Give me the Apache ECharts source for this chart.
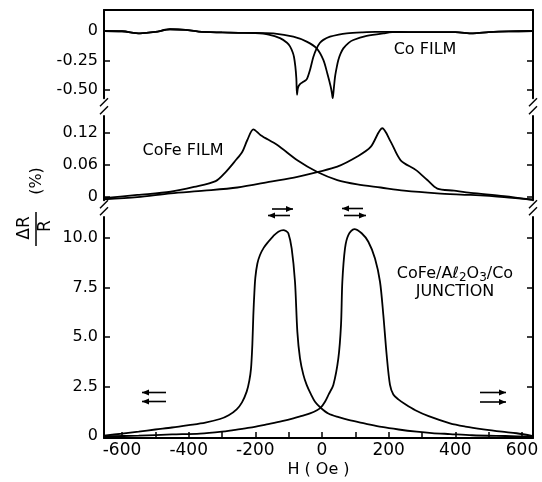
<!DOCTYPE html>
<html>
<head>
<meta charset="utf-8">
<script src="https://cdn.jsdelivr.net/npm/echarts@6/dist/echarts.min.js"></script>
<style>
  html, body { margin: 0; padding: 0; background: #fff; }
  #chart { width: 542px; height: 482px; }
</style>
</head>
<body>
<div id="chart"></div>
<script>
// Magnetoresistance ΔR/R (%) versus applied field H (Oe)

// Co film: decreasing-field sweep (dip at negative field)
const coDownH = [-654, -600, -546, -500, -456, -410, -370, -300, -250, -200, -160, -126, -105, -96, -88, -84, -80, -77, -75, -72, -66, -56, -46, -36, -26, -16, -6, 4, 24, 50, 74, 120, 160, 220, 300, 400, 453, 500, 560, 633];
const coDownR = [0, -0.002, -0.02, -0.008, 0.015, 0.01, -0.005, -0.012, -0.015, -0.018, -0.03, -0.06, -0.1, -0.13, -0.18, -0.22, -0.3, -0.4, -0.54, -0.48, -0.45, -0.43, -0.41, -0.33, -0.22, -0.147, -0.1, -0.075, -0.048, -0.03, -0.02, -0.012, -0.008, -0.008, -0.01, -0.01, -0.02, -0.01, -0.003, 0];
// Co film: increasing-field sweep (dip at positive field)
const coUpH = [-654, -600, -546, -500, -456, -410, -370, -300, -250, -200, -146, -86, -46, -16, 4, 16, 26, 30, 32, 35, 39, 44, 49, 56, 64, 80, 94, 134, 184, 224, 300, 400, 453, 500, 560, 633];
const coUpR = [0, -0.002, -0.02, -0.008, 0.015, 0.01, -0.005, -0.012, -0.015, -0.015, -0.02, -0.048, -0.09, -0.147, -0.245, -0.36, -0.47, -0.53, -0.57, -0.5, -0.39, -0.31, -0.245, -0.19, -0.147, -0.1, -0.076, -0.042, -0.02, -0.008, -0.01, -0.01, -0.02, -0.01, -0.003, 0];

// CoFe film
const cofeDownH = [-654, -554, -454, -384, -319, -289, -259, -239, -224, -206, -184, -134, -74, -14, 46, 106, 176, 246, 346, 446, 546, 633];
const cofeDownR = [-0.002, 0.004, 0.010, 0.019, 0.030, 0.047, 0.069, 0.085, 0.107, 0.127, 0.116, 0.0975, 0.069, 0.047, 0.032, 0.024, 0.018, 0.012, 0.007, 0.004, 0, -0.005];
const cofeUpH = [-654, -554, -454, -354, -254, -154, -74, -14, 46, 106, 146, 181, 206, 236, 281, 316, 346, 396, 446, 546, 633];
const cofeUpR = [-0.004, 0.0, 0.007, 0.012, 0.018, 0.029, 0.038, 0.047, 0.057, 0.076, 0.094, 0.129, 0.104, 0.069, 0.051, 0.032, 0.016, 0.012, 0.008, 0.002, -0.005];

// CoFe/Al2O3/Co tunnel junction
const tjDownH = [-654, -600, -550, -500, -450, -400, -350, -306, -280, -256, -240, -226, -218, -213, -209, -206, -203, -200, -194, -186, -175, -161, -146, -131, -116, -108, -101, -91, -81, -74, -66, -56, -46, -33, -21, -4, 19, 50, 79, 130, 179, 230, 284, 330, 384, 450, 550, 633];
const tjDownR = [0.02, 0.12, 0.22, 0.33, 0.43, 0.55, 0.68, 0.86, 1.05, 1.35, 1.7, 2.24, 2.8, 3.4, 4.6, 6.1, 7.2, 8.0, 8.7, 9.14, 9.5, 9.81, 10.1, 10.32, 10.4, 10.35, 10.24, 9.48, 7.79, 5.27, 3.92, 3.1, 2.58, 2.1, 1.73, 1.43, 1.14, 0.95, 0.81, 0.63, 0.46, 0.33, 0.22, 0.15, 0.1, 0.04, 0.0, -0.03];
const tjUpH = [-654, -550, -450, -366, -300, -266, -216, -166, -120, -86, -60, -36, -15, -4, 9, 20, 34, 49, 57, 61, 69, 79, 97, 119, 139, 159, 174, 184, 194, 204, 214, 229, 250, 280, 320, 384, 430, 484, 540, 584, 633];
const tjUpR = [-0.02, 0.02, 0.08, 0.12, 0.22, 0.3, 0.42, 0.59, 0.75, 0.89, 1.02, 1.14, 1.3, 1.43, 1.73, 2.1, 2.58, 3.92, 5.6, 7.79, 9.48, 10.15, 10.45, 10.24, 9.81, 8.97, 7.79, 6.11, 4.09, 2.58, 2.1, 1.85, 1.6, 1.3, 1.0, 0.64, 0.48, 0.34, 0.22, 0.14, 0.0];

// Axis ranges and ticks
const fieldRange = [-654, 633];
const fieldTicks = [-600, -500, -400, -300, -200, -100, 0, 100, 200, 300, 400, 500, 600];
const fieldLabels = [-600, -400, -200, 0, 200, 400, 600];

const coRange = [-0.57, 0.178];
const coTicks = [0, -0.25, -0.5];
const coTickLabels = ['0', '-0.25', '-0.50'];

const cofeRange = [-0.006, 0.152];
const cofeTicks = [0, 0.06, 0.12];
const cofeTickLabels = ['0', '0.06', '0.12'];

const tjRange = [-0.1, 11.06];
const tjTicks = [0, 2.5, 5, 7.5, 10];
const tjTickLabels = ['0', '2.5', '5.0', '7.5', '10.0'];

const FONT = 'DejaVu Sans';
const INK = '#000';

// Panel layout (pixels)
const plotLeft = 104, plotRight = 533, chartW = 542;
const panels = [
  { top: 10, height: 88.3 },
  { top: 116, height: 84.3 },
  { top: 217, height: 221 }
];

const pairs = (xs, ys) => xs.map((x, i) => [x, ys[i]]);

function labelFor(ticks, labels) {
  return v => {
    const i = ticks.findIndex(t => Math.abs(t - v) < 1e-9);
    return i >= 0 ? labels[i] : '';
  };
}

function leftY(gridIndex, range, ticks, labels) {
  return {
    type: 'value', gridIndex, position: 'left', min: range[0], max: range[1],
    axisLine: { show: true, onZero: false, lineStyle: { color: INK, width: 2 } },
    axisTick: { show: true, inside: true, length: 6, customValues: ticks, lineStyle: { color: INK, width: 1.5 } },
    axisLabel: { show: true, customValues: ticks, formatter: labelFor(ticks, labels), color: INK, fontFamily: FONT, fontSize: 16, margin: 6 },
    splitLine: { show: false }
  };
}
function rightY(gridIndex, range, ticks) {
  return {
    type: 'value', gridIndex, position: 'right', min: range[0], max: range[1],
    axisLine: { show: true, onZero: false, lineStyle: { color: INK, width: 2 } },
    axisTick: { show: true, inside: true, length: 6, customValues: ticks, lineStyle: { color: INK, width: 1.5 } },
    axisLabel: { show: false },
    splitLine: { show: false }
  };
}

function curve(data, idx) {
  return {
    type: 'line', data, xAxisIndex: idx, yAxisIndex: idx,
    showSymbol: false, smooth: 0.3,
    lineStyle: { color: INK, width: 1.8 }, silent: true, animation: false
  };
}

// Decorations: axis breaks, arrows, labels
function slash(x, yc) {
  return { type: 'line', shape: { x1: x - 4, y1: yc + 4, x2: x + 4, y2: yc - 4 }, style: { stroke: INK, lineWidth: 1.5 } };
}
function arrow(x1, x2, y, dir) {
  const head = 7, half = 3;
  const tip = dir === 'right' ? x2 : x1;
  const base = dir === 'right' ? x2 - head : x1 + head;
  return [
    { type: 'line', shape: { x1, y1: y, x2, y2: y }, style: { stroke: INK, lineWidth: 1.6 } },
    { type: 'polygon', shape: { points: [[tip, y], [base, y - half], [base, y + half]] }, style: { fill: INK } }
  ];
}
function text(str, x, y, size, extra) {
  return Object.assign({
    type: 'text', x, y,
    style: { text: str, x: 0, y: 0, fill: INK, font: size + 'px "' + FONT + '"', align: 'center', verticalAlign: 'middle' }
  }, extra || {});
}

const gap1 = panels[0].top + panels[0].height, gap2 = panels[1].top + panels[1].height;
const breakYs = [gap1 + 4, gap1 + 12, gap2 + 4, gap2 + 11];
const graphics = [];
breakYs.forEach(y => { graphics.push(slash(plotLeft, y)); graphics.push(slash(plotRight, y)); });
graphics.push(...arrow(272, 293, 209, 'right'), ...arrow(268, 290, 215.5, 'left'));
graphics.push(...arrow(342, 363, 208.5, 'left'), ...arrow(344, 366, 215.5, 'right'));
graphics.push(...arrow(142, 166, 392.5, 'left'), ...arrow(142, 166, 401.5, 'left'));
graphics.push(...arrow(480, 506, 392.5, 'right'), ...arrow(480, 506, 402, 'right'));

graphics.push(text('Co FILM', 425, 50, 16));
graphics.push(text('CoFe FILM', 183, 151, 16));
graphics.push({
  type: 'text', x: 455, y: 274,
  style: {
    text: '{n|CoFe/Aℓ}{s|2}{n|O}{s|3}{n|/Co}', x: 0, y: 0, align: 'center', verticalAlign: 'middle',
    rich: {
      n: { fontFamily: FONT, fontSize: 16, lineHeight: 20, fill: INK, verticalAlign: 'middle' },
      s: { fontFamily: FONT, fontSize: 12, fill: INK, verticalAlign: 'bottom' }
    }
  }
});
graphics.push(text('JUNCTION', 455, 292, 16));

// ΔR/R (%) axis title, rotated
graphics.push(text('ΔR', 25, 228, 17, { rotation: Math.PI / 2 }));
graphics.push({ type: 'line', shape: { x1: 36, y1: 212, x2: 36, y2: 246 }, style: { stroke: INK, lineWidth: 1.5 } });
graphics.push(text('R', 46, 226, 17, { rotation: Math.PI / 2 }));
graphics.push(text('(%)', 37, 181, 16, { rotation: Math.PI / 2 }));

const option = {
  backgroundColor: '#fff',
  animation: false,
  grid: panels.map(p => ({ left: plotLeft, right: chartW - plotRight, top: p.top, height: p.height, containLabel: false })),
  xAxis: [
    {
      type: 'value', gridIndex: 0, position: 'top', min: fieldRange[0], max: fieldRange[1],
      axisLine: { show: true, onZero: false, lineStyle: { color: INK, width: 2 } },
      axisTick: { show: false }, axisLabel: { show: false }, splitLine: { show: false }
    },
    { type: 'value', gridIndex: 1, show: false, min: fieldRange[0], max: fieldRange[1], splitLine: { show: false } },
    {
      type: 'value', gridIndex: 2, position: 'bottom', min: fieldRange[0], max: fieldRange[1],
      axisLine: { show: true, onZero: false, lineStyle: { color: INK, width: 2 } },
      axisTick: { show: true, inside: true, length: 6, customValues: fieldTicks, lineStyle: { color: INK, width: 1.5 } },
      axisLabel: { show: true, customValues: fieldLabels, color: INK, fontFamily: FONT, fontSize: 17, margin: 4 },
      splitLine: { show: false },
      name: 'H ( Oe )', nameLocation: 'middle', nameGap: 24,
      nameTextStyle: { color: INK, fontFamily: FONT, fontSize: 16 }
    }
  ],
  yAxis: [
    leftY(0, coRange, coTicks, coTickLabels),
    leftY(1, cofeRange, cofeTicks, cofeTickLabels),
    leftY(2, tjRange, tjTicks, tjTickLabels),
    rightY(0, coRange, coTicks),
    rightY(1, cofeRange, cofeTicks),
    rightY(2, tjRange, tjTicks)
  ],
  series: [
    curve(pairs(coDownH, coDownR), 0),
    curve(pairs(coUpH, coUpR), 0),
    curve(pairs(cofeDownH, cofeDownR), 1),
    curve(pairs(cofeUpH, cofeUpR), 1),
    curve(pairs(tjDownH, tjDownR), 2),
    curve(pairs(tjUpH, tjUpR), 2)
  ],
  graphic: graphics
};

const chart = echarts.init(document.getElementById('chart'), null, { renderer: 'canvas' });
chart.setOption(option);
</script>
</body>
</html>
